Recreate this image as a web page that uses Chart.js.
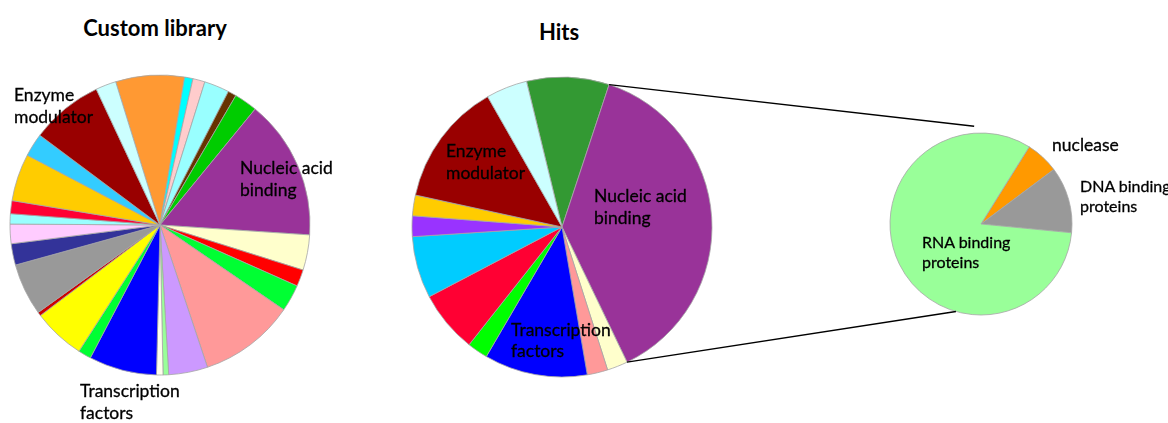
<!DOCTYPE html>
<html>
<head>
<meta charset="utf-8">
<script src="https://cdn.jsdelivr.net/npm/chart.js@4"></script>
<style>
  body { margin: 0; width: 1168px; height: 423px; background: #fff; position: relative; overflow: hidden; font-family: Lato, "Open Sans", sans-serif; color: #000; }
  canvas.pie { position: absolute; }
  .ttl { position: absolute; font-size: 22px; line-height: 26px; font-weight: bold; white-space: nowrap; transform: translateX(-50%); }
  .lbl { position: absolute; font-size: 17.5px; line-height: 22px; white-space: nowrap; -webkit-text-stroke: 0.3px #000; }
  .sm { font-size: 16px; line-height: 20px; }
  #links { position: absolute; left: 0; top: 0; pointer-events: none; }
</style>
</head>
<body>

<div class="ttl" style="left:155px; top:15px;">Custom library</div>
<div class="ttl" style="left:559px; top:19px;">Hits</div>

<canvas id="library" class="pie" width="310" height="310" style="left:5px; top:70px;"></canvas>
<canvas id="hits" class="pie" width="310" height="310" style="left:407px; top:72px;"></canvas>
<canvas id="nucleic" class="pie" width="200" height="200" style="left:881px; top:124px;"></canvas>
<canvas id="links" width="1168" height="423"></canvas>

<div class="lbl" style="left:14px; top:84px;">Enzyme<br>modulator</div>
<div class="lbl" style="left:240px; top:157px;">Nucleic acid<br>binding</div>
<div class="lbl" style="left:80px; top:380px;">Transcription<br>factors</div>

<div class="lbl" style="left:446px; top:140px;">Enzyme<br>modulator</div>
<div class="lbl" style="left:594px; top:185px;">Nucleic acid<br>binding</div>
<div class="lbl" style="left:511px; top:319px; line-height:21px;">Transcription<br>factors</div>

<div class="lbl" style="left:1052px; top:134px;">nuclease</div>
<div class="lbl sm" style="left:1080px; top:176px;">DNA binding<br>proteins</div>
<div class="lbl sm" style="left:922px; top:232px;">RNA binding<br>proteins</div>

<script>
// protein classes in the custom library (% of proteins), clockwise from the orange slice
var libraryClasses = ['class 1', 'class 2', 'class 3', 'class 4', 'class 5', 'class 6',
  'Nucleic acid binding', 'class 8', 'class 9', 'class 10', 'class 11', 'class 12',
  'class 13', 'class 14', 'Transcription factors', 'class 16', 'class 17', 'class 18',
  'class 19', 'class 20', 'class 21', 'class 22', 'class 23', 'class 24', 'class 25',
  'Enzyme modulator', 'class 27'];
var libraryShare = [7.4, 0.9, 1.3, 2.7, 0.9, 2.5, 15.1, 3.8, 1.8, 2.9, 10.3, 4.2, 0.6, 0.7,
  7.3, 1.4, 5.6, 0.4, 5.6, 2.3, 2.1, 1.1, 1.4, 5.1, 2.5, 7.8, 2.2];
var libraryColors = ['#FF9933', '#00FFFF', '#FFCCCC', '#99FFFF', '#663300', '#00CC00',
  '#993399', '#FFFFCC', '#FF0000', '#00FF33', '#FF9999', '#CC99FF', '#99FF99', '#FFFFEE',
  '#0000FF', '#00FF33', '#FFFF00', '#CC0000', '#999999', '#333399', '#FFCCFF', '#99FFFF',
  '#FF0033', '#FFCC00', '#33CCFF', '#990000', '#CCFFFF'];

// number of hits per class
var hitClasses = ['class 6', 'Nucleic acid binding', 'class 8', 'class 11',
  'Transcription factors', 'class 16', 'class 23', 'class 25', 'class 28', 'class 24',
  'Enzyme modulator', 'class 27'];
var hitCounts = [4, 17, 1, 1, 5, 1, 3, 3, 1, 1, 6, 2];
var hitColors = ['#339933', '#993399', '#FFFFCC', '#FF9999', '#0000FF', '#00FF00',
  '#FF0033', '#00CCFF', '#9933FF', '#FFCC00', '#990000', '#CCFFFF'];

// nucleic acid binding hits split by type
var nucleicTypes = ['nuclease', 'DNA binding proteins', 'RNA binding proteins'];
var nucleicCounts = [1, 2, 14];
var nucleicColors = ['#FF9900', '#999999', '#99FF99'];

function makePie(id, labels, values, colors, rotation, radius) {
  return new Chart(document.getElementById(id), {
    type: 'pie',
    data: {
      labels: labels,
      datasets: [{
        data: values,
        backgroundColor: colors,
        borderColor: '#a6a6a6',
        borderWidth: 0.8,
        hoverOffset: 0
      }]
    },
    options: {
      responsive: false,
      animation: false,
      rotation: rotation,
      radius: radius,
      layout: { padding: 0 },
      plugins: { legend: { display: false }, tooltip: { enabled: false } }
    }
  });
}

var libraryChart = makePie('library', libraryClasses, libraryShare, libraryColors, -17.2, 150);
var hitsChart = makePie('hits', hitClasses, hitCounts, hitColors, -13.7, 150);
var nucleicChart = makePie('nucleic', nucleicTypes, nucleicCounts, nucleicColors, 32, 91);

// lines from the nucleic acid binding slice out to the breakdown pie
function drawLinks() {
  var ctx = document.getElementById('links').getContext('2d');
  var hc = document.getElementById('hits');
  var nc = document.getElementById('nucleic');
  var slice = hitsChart.getDatasetMeta(0).data[1];
  var cx = hc.offsetLeft + slice.x, cy = hc.offsetTop + slice.y, r = slice.outerRadius;
  var first = nucleicChart.getDatasetMeta(0).data[0];
  var nx = nc.offsetLeft + first.x, ny = nc.offsetTop + first.y, nr = first.outerRadius;

  var top = -94 * Math.PI / 180, bottom = 106 * Math.PI / 180;
  ctx.strokeStyle = '#000';
  ctx.lineWidth = 1.4;
  ctx.beginPath();
  ctx.moveTo(cx + r * Math.cos(slice.startAngle), cy + r * Math.sin(slice.startAngle));
  ctx.lineTo(nx + (nr + 7) * Math.cos(top), ny + (nr + 7) * Math.sin(top));
  ctx.moveTo(cx + r * Math.cos(slice.endAngle), cy + r * Math.sin(slice.endAngle));
  ctx.lineTo(nx + nr * Math.cos(bottom), ny + nr * Math.sin(bottom));
  ctx.stroke();
}
drawLinks();
</script>
</body>
</html>
